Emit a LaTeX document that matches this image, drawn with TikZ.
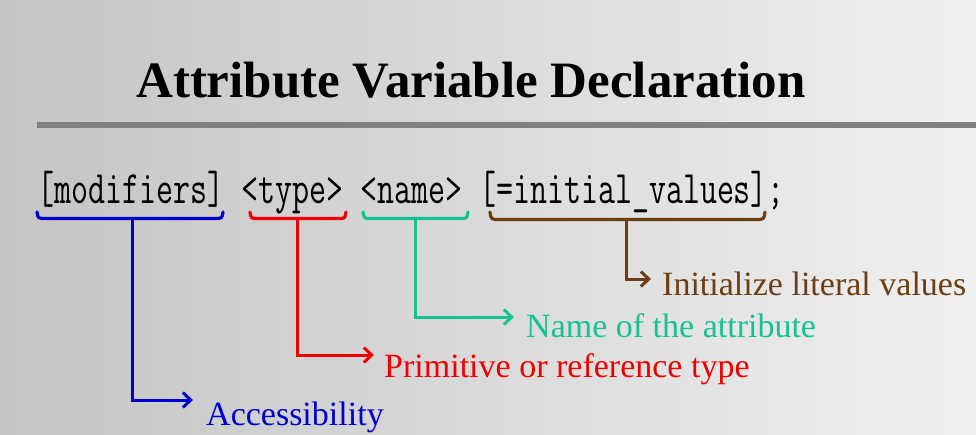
\documentclass[tikz,border=0pt]{standalone}
\usepackage{fontspec}
\setmainfont{Liberation Serif}
\newfontfamily\codefont{Latin Modern Mono}
\usetikzlibrary{arrows.meta}
\definecolor{bgL}{RGB}{196,196,196}
\definecolor{bgR}{RGB}{240,240,240}
\definecolor{ruleC}{RGB}{128,128,128}
\definecolor{cBlue}{RGB}{0,0,204}
\definecolor{cRed}{RGB}{240,0,0}
\definecolor{cGreen}{RGB}{22,194,146}
\definecolor{cBrown}{RGB}{110,62,18}
\tikzset{
  bracestyle/.style={line width=3.2pt, line cap=round},
  stemstyle/.style={line width=3pt, -{Straight Barb[length=8pt,width=15pt]}},
  lbl/.style={anchor=base west, inner sep=0pt, font=\fontsize{34}{37}\selectfont},
}
\begin{document}
\begin{tikzpicture}[x=1pt,y=-1pt]
\useasboundingbox (0,0) rectangle (976,434);
\shade[left color=bgL, right color=bgR] (0,0) rectangle (976,434);
% title
\node[anchor=base west, inner sep=0pt, font=\fontsize{51}{56}\selectfont\bfseries] (title) at (136,97) {Attribute Variable Declaration};
\fill[ruleC] (37,122) rectangle (976,128);
% code line
\node[anchor=base west, inner sep=0pt] (code) at (37,203) {\scalebox{1}[1.41]{\codefont\fontsize{33}{35}\selectfont [modifiers]\ <type>\ <name>\ [=initial\_values];}};
% braces
\draw[bracestyle, cBlue] (37,212) .. controls (38,218.5) .. (46,218.5) -- (214,218.5) .. controls (222,218.5) .. (223,212);
\draw[bracestyle, cRed] (250,212) .. controls (251,218.5) .. (258,218.5) -- (338,218.5) .. controls (345,218.5) .. (346,212);
\draw[bracestyle, cGreen] (363,212) .. controls (364,218.5) .. (371,218.5) -- (460,218.5) .. controls (467,218.5) .. (468,212);
\draw[bracestyle, cBrown] (490,212) .. controls (491,219.5) .. (500,219.5) -- (755,219.5) .. controls (764,219.5) .. (765,212);
\coordinate (bm) at (132,218.5);
\coordinate (rm) at (297,218.5);
\coordinate (gm) at (415,218.5);
\coordinate (wm) at (626,219.5);
\coordinate (bt) at (193,400);
\coordinate (rt) at (374,355);
\coordinate (gt) at (514,317);
\coordinate (wt) at (651,279);
% labels
\node[lbl, text=cBlue] (lacc) at (206,425) {Accessibility};
\node[lbl, text=cRed] (lprim) at (384,377) {Primitive or reference type};
\node[lbl, text=cGreen] (lname) at (526,337) {Name of the attribute};
\node[lbl, text=cBrown] (linit) at (662,295) {Initialize literal values};
% stems
\draw[stemstyle, cBlue] (bm) |- (bt);
\draw[stemstyle, cRed] (rm) |- (rt);
\draw[stemstyle, cGreen] (gm) |- (gt);
\draw[stemstyle, cBrown] (wm) |- (wt);
\end{tikzpicture}
\end{document}
